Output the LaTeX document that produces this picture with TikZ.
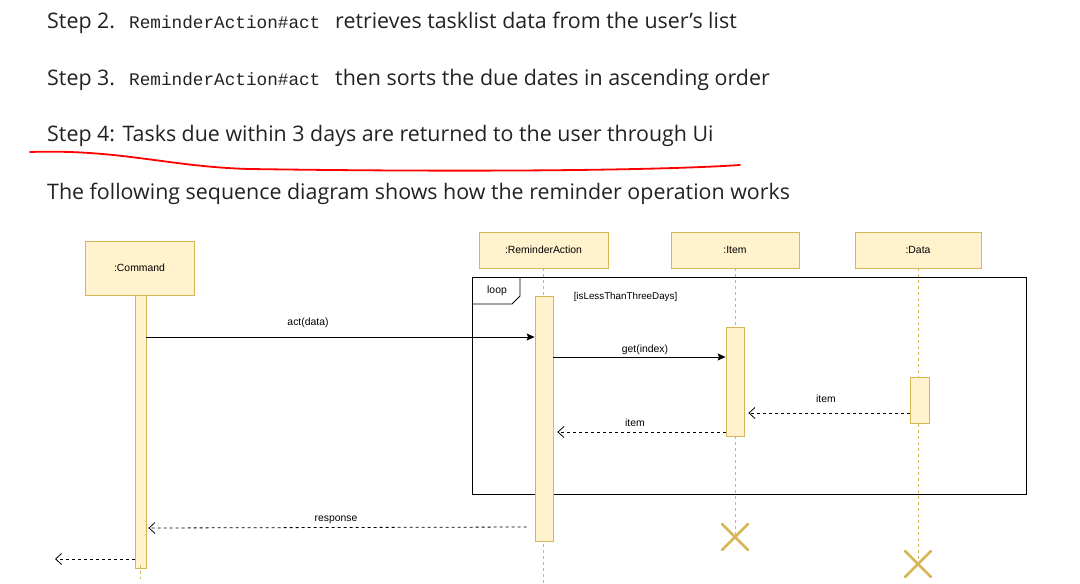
\documentclass[tikz,border=0pt]{standalone}
\usepackage{fontspec}
\setmainfont{Open Sans}
\newfontfamily\diagfont{Liberation Sans}
\newfontfamily\codefont{Liberation Mono}
\usetikzlibrary{arrows.meta}
\definecolor{lifefill}{HTML}{FFF2CC}
\definecolor{lifeedge}{HTML}{D6B656}
\definecolor{prosegray}{HTML}{222222}
\newcommand*{\picW}{1080}
\newcommand*{\picH}{584}
\tikzset{
  prose/.style={anchor=base west, inner sep=0pt, text=prosegray, font=\fontsize{21.4}{25}\selectfont},
  code/.style={anchor=base west, inner sep=0pt, text=prosegray, font=\codefont\fontsize{17.7}{20}\selectfont},
  head/.style={draw=lifeedge, fill=lifefill, line width=0.8pt, inner sep=0pt, font=\diagfont\fontsize{10.4}{12}\selectfont},
  bar/.style={draw=lifeedge, fill=lifefill, line width=0.8pt, inner sep=0pt, anchor=north},
  lifedash/.style={draw=lifeedge, dash pattern=on 3pt off 3pt, line width=0.8pt},
  lbl/.style={font=\diagfont\fontsize{10.4}{12}\selectfont, inner sep=1pt},
  call/.style={-{Stealth[length=8pt,width=7pt,inset=1.5pt]}, line width=0.9pt},
  reply/.style={-{Straight Barb[length=6pt,width=11pt]}, dash pattern=on 3pt off 3pt, line width=0.8pt},
  destroy/.style={draw=lifeedge, line width=2.6pt, line cap=round}
}
\begin{document}
\begin{tikzpicture}[x=1pt,y=-1pt]
  \useasboundingbox (0,0) rectangle (\picW,\picH);

  % text above the diagram
  \node[prose] (s2) at (47,28) {Step 2.};
  \node[code] (s2code) at (129,28) {ReminderAction\#act};
  \node[prose] (s2rest) at (335,28) {retrieves tasklist data from the user’s list};
  \node[prose] (s3) at (47,85) {Step 3.};
  \node[code] (s3code) at (129,85) {ReminderAction\#act};
  \node[prose] (s3rest) at (335,85) {then sorts the due dates in ascending order};
  \node[prose] (s4) at (47,141) {Step 4: Tasks due within 3 days are returned to the user through Ui};
  \node[prose] (intro) at (47,199) {The following sequence diagram shows how the reminder operation works};
  \draw[red, line width=1.8pt, line cap=round] (30,152) .. controls (120,149) and (170,167) .. (250,169)
    .. controls (450,172) and (650,171) .. (740,165);

  % lifeline heads
  \node[head, minimum width=109pt, minimum height=54pt] (cmd) at (139.5,268) {:Command};
  \foreach \nm/\cx/\bw/\txt in {ra/543.5/129/:ReminderAction, item/735/128/:Item, data/918/126/:Data} {
    \node[head, minimum width=\bw pt, minimum height=36pt] (\nm) at (\cx,250) {\txt};
  }

  % destruction marks
  \coordinate (itemx) at (735,537);
  \coordinate (datax) at (918,564);

  % lifelines
  \draw[lifedash] (ra.south) -- (ra.south |- 0,\picH);
  \draw[lifedash] (item.south) -- (itemx);
  \draw[lifedash] (data.south) -- (datax);

  % loop frame
  \node[draw, line width=0.9pt, minimum width=554pt, minimum height=217pt, inner sep=0pt, anchor=north west] (loopfrm) at (472,277) {};
  \draw[line width=0.9pt] (loopfrm.north west) ++(0,27) -- ++(40,0) -- ++(8,-8) -- ++(0,-19);
  \node[lbl] (looplbl) at (497,291) {loop};
  \node[lbl, font=\diagfont\fontsize{9.8}{12}\selectfont] (guard) at (625.5,297) {[isLessThanThreeDays]};

  % activation bars
  \node[bar, minimum width=11pt, minimum height=273pt] (cmdbar) at (140.5,295) {};
  \node[bar, minimum width=18pt, minimum height=245pt] (rabar) at (544,296) {};
  \node[bar, minimum width=18pt, minimum height=109pt] (itembar) at (735,327) {};
  \node[bar, minimum width=19pt, minimum height=46pt] (databar) at (919.5,377) {};
  \draw[lifedash] ([yshift=4pt]cmdbar.south) -- ++(0,14);

  \foreach \mk in {itemx,datax} {
    \draw[destroy] ([shift={(-13,-13)}]\mk) -- ([shift={(13,13)}]\mk);
    \draw[destroy] ([shift={(-13,13)}]\mk) -- ([shift={(13,-13)}]\mk);
  }

  % messages
  \draw[call] (cmdbar.east |- 0,337) -- (rabar.west |- 0,337);
  \node[lbl] (actlbl) at (308,323) {act(data)};
  \draw[call] (rabar.east |- 0,357) -- (itembar.west |- 0,357);
  \node[lbl] (getlbl) at (645,350) {get(index)};
  \draw[reply] (databar.west |- 0,413) -- ([xshift=4pt]itembar.east |- 0,413);
  \node[lbl] (itemlbl1) at (826,399) {item};
  \draw[reply] (itembar.west |- 0,432) -- ([xshift=4pt]rabar.east |- 0,432);
  \node[lbl] (itemlbl2) at (635,423) {item};
  \draw[reply] ([xshift=-8pt]rabar.west |- 0,527) -- ([xshift=2pt]cmdbar.east |- 0,528);
  \node[lbl] (resplbl) at (336,520) {response};
  \draw[reply] (cmdbar.west |- 0,559) -- (55,559);
\end{tikzpicture}
\end{document}
